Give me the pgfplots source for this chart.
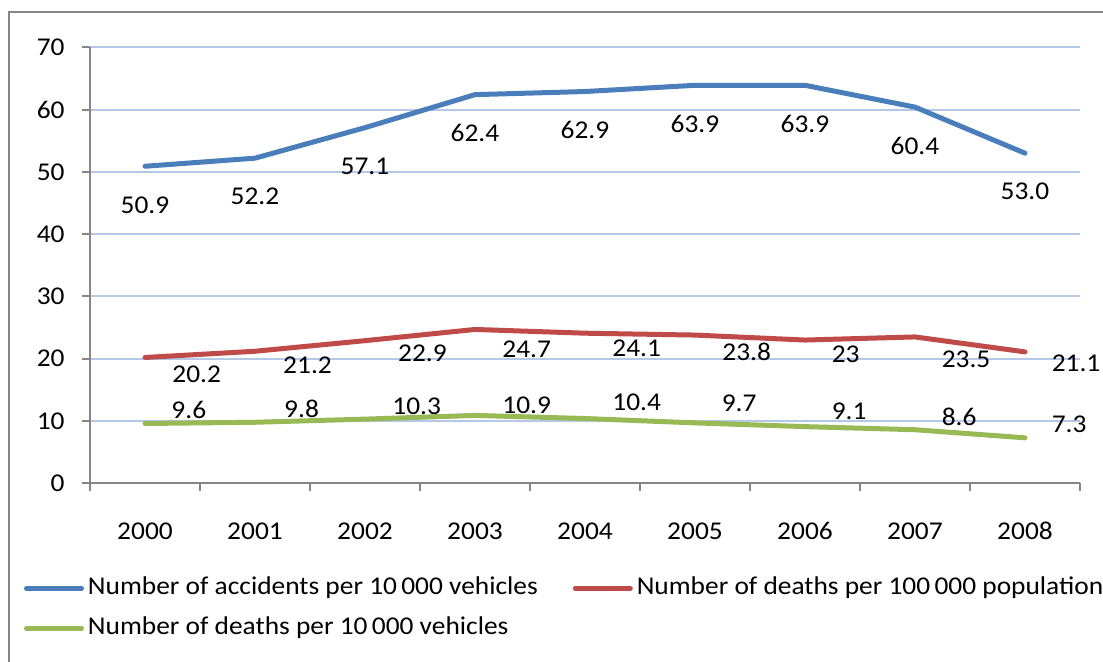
\documentclass[border=0pt]{standalone}
\usepackage{pgfplots}
\pgfplotsset{compat=1.18}
\usepackage{fontspec}
\setmainfont[FakeStretch=1.07]{Carlito}
\definecolor{sblue}{RGB}{74,126,187}
\definecolor{sred}{RGB}{190,75,72}
\definecolor{sgreen}{RGB}{152,185,84}
\definecolor{gridc}{RGB}{180,200,232}
\definecolor{axgray}{RGB}{134,134,134}
\begin{document}
\begin{tikzpicture}[font=\fontsize{12.8}{15}\selectfont]
\begin{axis}[
  scale only axis,
  width=495pt, height=218pt,
  xmin=-0.5, xmax=8.5, ymin=0, ymax=70,
  clip=false,
  axis x line*=bottom, axis y line*=left,
  axis line style={axgray, line width=1pt},
  xtick={0,...,8},
  xticklabels={2000,2001,2002,2003,2004,2005,2006,2007,2008},
  minor xtick={-0.5,0.5,...,8.5},
  major x tick style={draw=none},
  minor x tick style={axgray, line width=1pt},
  ytick={0,10,...,70},
  y tick style={axgray, line width=1pt},
  tick align=outside,
  major tick length=4pt, minor tick length=4pt,
  ymajorgrids,
  grid style={gridc, line width=1pt},
  /pgf/number format/assume math mode=true,
  yticklabel style={anchor=east, inner sep=0pt, xshift=-8.5pt},
  xticklabel style={anchor=center, inner sep=0pt, yshift=-20pt},
  legend columns=2,
  legend cell align=left,
  legend style={at={(0,0)}, anchor=north west, xshift=-33pt, yshift=-47pt,
    draw=none, fill=none, inner sep=0pt, outer sep=0pt, row sep=9pt,
    nodes={inner sep=0pt, text height=8.5pt, text depth=2.5pt},
    /tikz/every even column/.append style={column sep=17.5pt}},
  legend image code/.code={\draw[#1, line width=2.5pt, line cap=round] (0pt,0pt) -- (27.5pt,0pt);},
  every axis plot/.append style={line width=2.5pt, line cap=round, line join=round},
]
\addplot[sblue, mark=none, nodes near coords, point meta=explicit symbolic,
  nodes near coords style={black, anchor=center, inner sep=0pt, yshift=-19.3pt}]
  coordinates {(0,50.9)[50.9] (1,52.2)[52.2] (2,57.1)[57.1] (3,62.4)[62.4] (4,62.9)[62.9]
               (5,63.9)[63.9] (6,63.9)[63.9] (7,60.4)[60.4] (8,53.0)[53.0]};
\addlegendentry{\hspace{2pt}Number of accidents per 10\,000 vehicles}
\addplot[sred, mark=none]
  coordinates {(0,20.2) (1,21.2) (2,22.9) (3,24.7) (4,24.1) (5,23.8) (6,23) (7,23.5) (8,21.1)};
\addlegendentry{\hspace{2pt}Number of deaths per 100\,000 population}
\addplot[sgreen, mark=none]
  coordinates {(0,9.6) (1,9.8) (2,10.3) (3,10.9) (4,10.4) (5,9.7) (6,9.1) (7,8.6) (8,7.3)};
\addlegendentry{\hspace{2pt}Number of deaths per 10\,000 vehicles}
% data labels of the red series
\addplot[draw=none, mark=none, forget plot, nodes near coords, point meta=explicit symbolic,
  nodes near coords style={black, anchor=west, inner sep=0pt}]
  coordinates {(0.227,17.54)[20.2] (1.234,18.99)[21.2] (2.279,20.87)[22.9] (3.227,21.51)[24.7]
               (4.227,21.67)[24.1] (5.227,21.12)[23.8] (6.221,20.75)[23] (7.221,19.90)[23.5]
               (8.221,19.26)[21.1]};
% data labels of the green series
\addplot[draw=none, mark=none, forget plot, nodes near coords, point meta=explicit symbolic,
  nodes near coords style={black, anchor=west, inner sep=0pt}]
  coordinates {(0.218,11.77)[9.6] (1.243,11.88)[9.8] (2.227,12.41)[10.3] (3.227,12.52)[10.9]
               (4.227,12.94)[10.4] (5.221,12.78)[9.7] (6.221,11.6)[9.1] (7.221,10.69)[8.6]
               (8.221,9.47)[7.3]};
\end{axis}
\draw[axgray, line width=1pt] (-40.5pt,-100pt) -- (-40.5pt,235.4pt) -- (520pt,235.4pt);
\pgfresetboundingbox
\useasboundingbox (-45pt,-89.35pt) rectangle (506.5pt,241.65pt);
\end{tikzpicture}
\end{document}
